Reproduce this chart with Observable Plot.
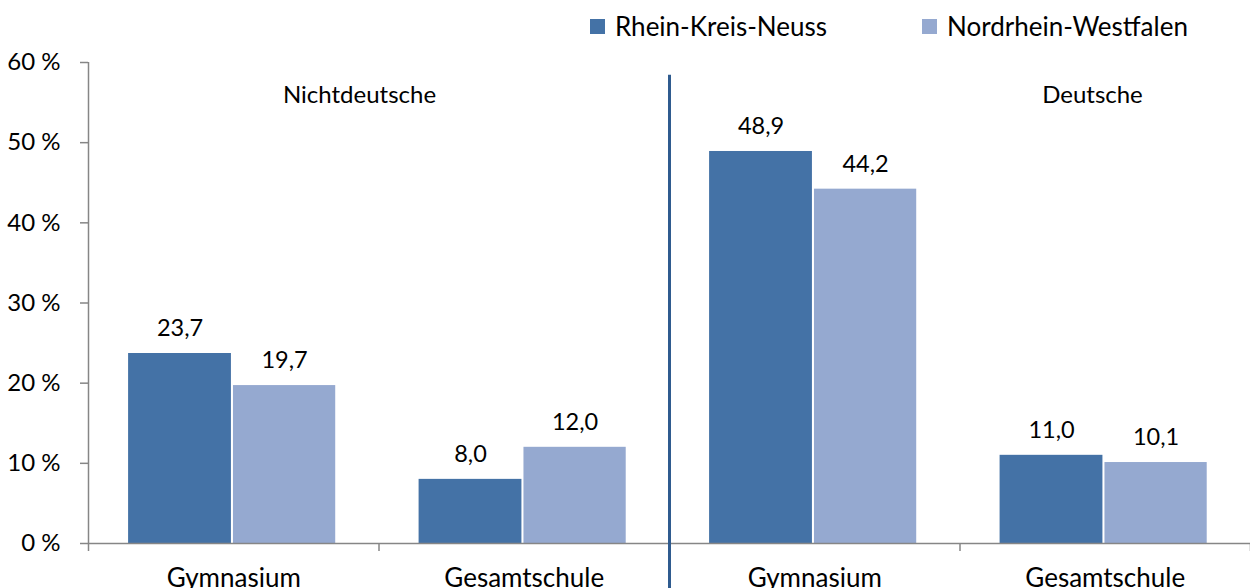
<!DOCTYPE html>
<html>
<head>
<meta charset="utf-8">
<script src="https://cdn.jsdelivr.net/npm/d3@7"></script>
<script src="https://cdn.jsdelivr.net/npm/@observablehq/plot@0.6"></script>
<style>
  html, body { margin: 0; padding: 0; background: #fff; }
  body { font-family: "Lato", "Open Sans", sans-serif; width: 1250px; height: 588px; overflow: hidden; }
  #legend { position: relative; height: 50px; width: 1250px; }
  .item { position: absolute; top: 11px; display: flex; align-items: center; font-size: 26px; line-height: 30px; color: #000; }
  .sw { width: 15px; height: 15px; margin-right: 10px; }
</style>
</head>
<body>
<div id="legend"></div>
<div id="chart"></div>
<script>
const groups = ["Nichtdeutsche", "Deutsche"];
const categories = ["Gymnasium", "Gesamtschule", "Gymnasium", "Gesamtschule"];
const series = ["Rhein-Kreis-Neuss", "Nordrhein-Westfalen"];
const rheinKreisNeuss = [23.7, 8.0, 48.9, 11.0];
const nordrheinWestfalen = [19.7, 12.0, 44.2, 10.1];
const yTicks = [0, 10, 20, 30, 40, 50, 60];

const colors = {"Rhein-Kreis-Neuss": "#4472a6", "Nordrhein-Westfalen": "#95a9d0"};
const offsets = {"Rhein-Kreis-Neuss": [0.138, 0.492], "Nordrhein-Westfalen": [0.499, 0.851]};
const fmt = v => v.toFixed(1).replace(".", ",");

const rows = [];
categories.forEach((c, i) => {
  [rheinKreisNeuss, nordrheinWestfalen].forEach((arr, k) => {
    const s = series[k];
    rows.push({i, category: c, series: s, value: arr[i],
      x1: i + offsets[s][0], x2: i + offsets[s][1], xm: i + (offsets[s][0] + offsets[s][1]) / 2});
  });
});
const catRows = categories.map((c, i) => ({c, x: i + 0.5}));
const groupRows = groups.map((g, j) => ({g, x: j * 2 + (j === 0 ? 0.933 : 1.456)}));

// legend
const legend = document.getElementById("legend");
const legendLeft = [590, 922];
series.forEach((s, k) => {
  const d = document.createElement("div");
  d.className = "item";
  d.style.left = legendLeft[k] + "px";
  d.innerHTML = `<div class="sw" style="background:${colors[s]}"></div><span>${s}</span>`;
  legend.appendChild(d);
});

const axisGray = "#868686";
const chart = Plot.plot({
  width: 1250,
  height: 538,
  marginLeft: 88,
  marginRight: 0,
  marginTop: 12,
  marginBottom: 45,
  style: {fontFamily: "Lato, 'Open Sans', sans-serif", background: "#fff", overflow: "visible"},
  x: {domain: [0, 4], axis: null},
  y: {domain: [0, 60], axis: null},
  marks: [
    Plot.rectY(rows, {x1: "x1", x2: "x2", y: "value", fill: d => colors[d.series]}),
    Plot.text(rows, {x: "xm", y: "value", text: d => fmt(d.value), dy: -25, lineAnchor: "middle", fontSize: 23.5, fill: "#000"}),
    Plot.ruleY([0], {stroke: axisGray, strokeWidth: 1.5}),
    Plot.ruleX([0], {y1: 0, y2: 60, stroke: axisGray, strokeWidth: 1.5}),
    Plot.axisY({ticks: yTicks, tickFormat: d => d + " %", label: null, tickSize: 8, tickPadding: 20, fontSize: 24, stroke: axisGray, fill: "#000", strokeWidth: 1.5}),
    Plot.axisX({ticks: [0, 1, 2, 3, 4], tickFormat: () => "", label: null, tickSize: 8, stroke: axisGray, strokeWidth: 1.5}),
    Plot.text(catRows, {x: "x", text: "c", frameAnchor: "bottom", lineAnchor: "middle", dy: 35, fontSize: 26, fill: "#000"}),
    Plot.text(groupRows, {x: "x", text: "g", frameAnchor: "top", lineAnchor: "middle", dy: 33, fontSize: 24, fill: "#000"}),
    Plot.ruleX([2], {y1: 58.4, y2: -6, stroke: "#2f5b8f", strokeWidth: 3})
  ]
});
document.getElementById("chart").appendChild(chart);
</script>
</body>
</html>
